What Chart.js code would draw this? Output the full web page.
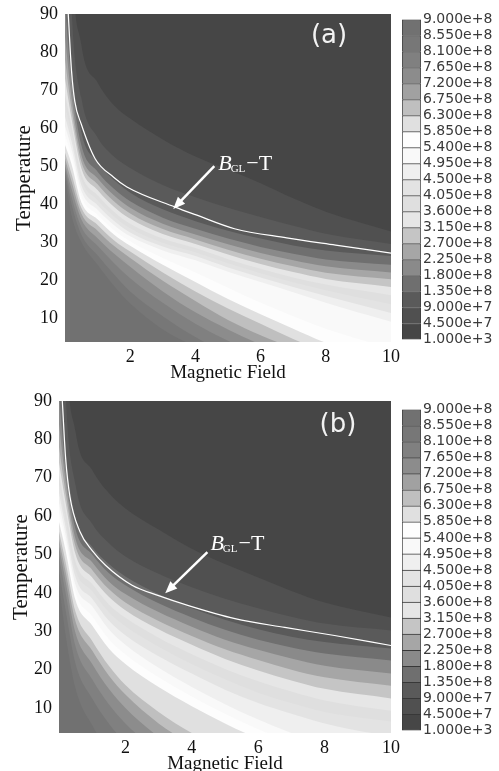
<!DOCTYPE html>
<html>
<head>
<meta charset="utf-8">
<script src="https://cdn.jsdelivr.net/npm/chart.js@4.4.1/dist/chart.umd.min.js"></script>
<style>
body{margin:0;background:#fff;width:499px;height:771px;position:relative;overflow:hidden}
canvas{position:absolute}
</style>
</head>
<body>
<canvas id="mainA" width="402" height="388" style="left:0;top:0"></canvas>
<canvas id="barA" width="119" height="360" style="left:380px;top:0"></canvas>
<canvas id="mainB" width="402" height="392" style="left:0;top:387px"></canvas>
<canvas id="barB" width="119" height="360" style="left:380px;top:390px"></canvas>
<script>
// magnetic field grid used for every contour boundary
const fieldB = [0, 0.2, 0.5, 1, 1.5, 2, 3, 4, 5, 6, 7, 8, 10];
const xTicks = [2, 4, 6, 8, 10];
const yTicks = [10, 20, 30, 40, 50, 60, 70, 80, 90];

// colour bar, top to bottom
const cbLabels = ['9.000e+8','8.550e+8','8.100e+8','7.650e+8','7.200e+8','6.750e+8','6.300e+8',
  '5.850e+8','5.400e+8','4.950e+8','4.500e+8','4.050e+8','3.600e+8','3.150e+8','2.700e+8',
  '2.250e+8','1.800e+8','1.350e+8','9.000e+7','4.500e+7','1.000e+3'];
const bandColors = ['#717171','#777777','#808080','#8c8c8c','#a1a1a1','#bfbfbf','#e0e0e0',
  '#fdfdfd','#f9f9f9','#efefef','#e3e3e3','#dfdfdf','#e6e6e6','#c5c5c5','#a6a6a6',
  '#8a8a8a','#6f6f6f','#5a5a5a','#505050','#464646'];

// (a) temperature of each contour level along fieldB, highest level first
const a855 = [47, 37, 30, 24, 18.5, 13.8, 7, 2.5, -1, -4, -7, -10, -16];
const a810 = [48.5, 40, 32, 26.5, 21.5, 17, 10.5, 5, 0.5, -3, -6, -9, -15];
const a765 = [49.5, 42, 34, 29, 24.5, 20.5, 14, 8.5, 4, 0, -3.5, -7, -13];
const a720 = [50.5, 44, 36, 31, 27, 23.5, 17, 11.5, 7, 3, -1, -4.5, -11];
const a675 = [52, 46, 37.5, 33, 29, 25.8, 19.8, 14.5, 9.5, 5.5, 2, -1.5, -8];
const a630 = [53.5, 48, 39, 34.5, 30.5, 27.5, 22, 17, 12.5, 8.5, 4.5, 1, -5];
const a585 = [55.5, 50.5, 40.5, 36, 32, 29, 24, 19.5, 15, 11, 7.2, 3.5, -2.5];
const a540 = [58, 52.5, 42, 37.2, 33.2, 30.2, 25.8, 22, 18, 14, 10.5, 7.2, 2];
const a495 = [60.5, 54.5, 43.5, 38.5, 34.5, 31.5, 27.8, 25.2, 22.2, 19.5, 16.8, 14, 9];
const a450 = [63, 56.5, 45, 39.7, 35.6, 32.5, 28.8, 26.3, 23.3, 20.7, 18.2, 15.8, 11.3];
const a405 = [66, 58.5, 46.5, 41, 36.8, 33.6, 29.8, 27.3, 24.4, 21.8, 19.4, 17.3, 13.6];
const a360 = [69, 60.5, 48, 42.3, 38, 34.8, 30.9, 28.4, 25.5, 23, 20.7, 18.8, 16];
const a315 = [73, 62.5, 49.5, 43.7, 39.3, 36.1, 32.1, 29.5, 26.7, 24.2, 22.1, 20.3, 18.2];
const a270 = [78, 65, 51.2, 45.2, 40.7, 37.5, 33.4, 30.7, 28, 25.6, 23.6, 21.9, 20.2];
const a225 = [84, 68, 53, 46.8, 42.3, 39, 34.8, 32, 29.4, 27.1, 25.2, 23.6, 22];
const a180 = [92, 72, 55.5, 48.5, 44, 40.7, 36.4, 33.5, 30.9, 28.7, 26.9, 25.4, 24];
const a135 = [110, 78, 59, 51, 46.3, 43, 38.6, 35.5, 33, 30.9, 29.1, 27.8, 26.3];
const a090 = [150, 92, 68, 57.5, 52.5, 49.5, 45, 41.8, 39, 36.6, 34.3, 32.2, 29.5];
const a045 = [200, 110, 82, 72, 66, 62.5, 57, 52.5, 49, 45.5, 41.5, 38, 32.8];

// (b)
const b855 = [42, 29, 15, 5.5, -1, -6, -13, -19, -23, -27, -31, -35, -42];
const b810 = [46, 35.5, 21.5, 12.5, 6, 1, -6, -12, -16, -20, -24, -28, -35];
const b765 = [49.5, 40, 26, 17.5, 11, 6, -1.5, -7, -12, -16, -20, -24, -31];
const b720 = [52, 43, 29.5, 21.5, 15, 10, 2.5, -3, -8, -12, -16, -20, -27];
const b675 = [54, 45.5, 32.5, 25, 18.5, 13.5, 6, 0.5, -4, -8, -12, -16, -23];
const b630 = [56, 48, 35, 27.5, 21, 16, 9, 3.5, -1, -5, -8.5, -12, -18];
const b585 = [58.5, 51, 38, 31.5, 25.5, 21.5, 15.5, 10.5, 6, 2, -1.5, -5, -11];
const b540 = [61, 53, 40, 34, 28, 24, 18, 13, 8.5, 4.5, 1, -2.5, -8];
const b495 = [63.5, 55, 42, 36.5, 30.5, 26.5, 20.5, 15.5, 11, 7, 3.5, 0.5, -5];
const b450 = [66, 57, 44, 38.5, 32.8, 29, 23.5, 19, 14.8, 11.3, 8.5, 6, 2.5];
const b405 = [68.5, 59, 46, 40.5, 35, 31.3, 26, 21.5, 17.5, 14, 11.3, 9, 6.5];
const b360 = [71, 61.5, 48, 42.3, 37, 33.5, 28.3, 24, 20.2, 17, 14.3, 12, 9.3];
const b315 = [74, 63.5, 50, 44, 39, 35.5, 30.5, 26.5, 22.8, 19.8, 17.2, 15, 12.5];
const b270 = [78, 66, 52, 46, 41, 37.5, 32.7, 28.8, 25.3, 22.5, 20, 18, 15.8];
const b225 = [84, 69, 54, 48, 43, 39.7, 35, 31.2, 27.8, 25.2, 22.9, 21, 19];
const b180 = [92, 72, 56.5, 50, 45.2, 42, 37.3, 33.6, 30.4, 27.8, 25.8, 24.2, 22.4];
const b135 = [110, 78, 59.5, 52, 47.5, 44.3, 39.7, 36, 33, 30.5, 28.6, 27.2, 25.5];
const b090 = [150, 92, 68, 58, 53, 49.5, 45, 41.5, 38.5, 36, 33.8, 32, 30.2];
const b045 = [200, 110, 82, 72, 66, 62, 56.5, 51.5, 47.5, 44, 40.5, 37.5, 33.6];

// B_GL - T curves
const glA_B = [0.1, 0.2, 0.3, 0.5, 0.92, 1.5, 1.9, 3.38, 4, 5.2, 6.8, 8.3, 10];
const glA_T = [90, 75, 67, 61, 52, 47, 44.5, 39.2, 37.2, 33.5, 31.1, 29.2, 27.1];
const glB_B = [0.1, 0.2, 0.33, 0.63, 1, 1.4, 2.2, 3, 3.9, 5.3, 6.8, 8.3, 10];
const glB_T = [90, 75, 65, 56, 51, 47.2, 42, 39.3, 36.7, 33.3, 31, 28.9, 26.3];

const serif = 'Liberation Serif';

const bgPlugin = {
  id: 'bg',
  beforeDatasetsDraw(chart) {
    const {ctx, chartArea: a} = chart;
    ctx.save();
    ctx.fillStyle = bandColors[19];
    ctx.fillRect(a.left, a.top, a.right - a.left, a.bottom - a.top);
    ctx.restore();
  }
};

function notePlugin(opt) {
  return {
    id: 'note',
    afterDatasetsDraw(chart) {
      const {ctx, scales: {x, y}} = chart;
      ctx.save();
      const x0 = x.getPixelForValue(opt.from[0]), y0 = y.getPixelForValue(opt.from[1]);
      const x1 = x.getPixelForValue(opt.tip[0]), y1 = y.getPixelForValue(opt.tip[1]);
      const ang = Math.atan2(y1 - y0, x1 - x0);
      const c = Math.cos(ang), s = Math.sin(ang);
      ctx.strokeStyle = '#fff';
      ctx.fillStyle = '#fff';
      ctx.lineWidth = 2.5;
      ctx.beginPath();
      ctx.moveTo(x0, y0);
      ctx.lineTo(x1 - c * 8, y1 - s * 8);
      ctx.stroke();
      ctx.beginPath();
      ctx.moveTo(x1, y1);
      ctx.lineTo(x1 - 12 * c + 5 * s, y1 - 12 * s - 5 * c);
      ctx.lineTo(x1 - 12 * c - 5 * s, y1 - 12 * s + 5 * c);
      ctx.closePath();
      ctx.fill();

      let tx = x.getPixelForValue(opt.text[0]);
      const ty = y.getPixelForValue(opt.text[1]);
      ctx.textAlign = 'left';
      ctx.textBaseline = 'alphabetic';
      ctx.font = 'italic 22px "' + serif + '"';
      ctx.fillText('B', tx, ty);
      tx += ctx.measureText('B').width - 1;
      ctx.font = '11px "' + serif + '"';
      ctx.fillText('GL', tx, ty + 2);
      tx += ctx.measureText('GL').width + 1;
      ctx.font = '22px "' + serif + '"';
      ctx.fillText('\u2212T', tx, ty);

      ctx.font = '26px "DejaVu Sans"';
      ctx.fillStyle = '#f2f2f2';
      ctx.textAlign = 'center';
      ctx.textBaseline = 'middle';
      ctx.fillText(opt.tag, x.getPixelForValue(opt.tagAt[0]), y.getPixelForValue(opt.tagAt[1]));
      ctx.restore();
    }
  };
}

function mainChart(id, bounds, lineB, lineT, yMin, leftW, titlePad, note) {
  const datasets = bounds.map((t, i) => ({
    data: fieldB.map((b, k) => ({x: b, y: t[k]})),
    fill: 'start',
    backgroundColor: bandColors[i],
    borderColor: 'rgba(0,0,0,0)',
    borderWidth: 0,
    pointRadius: 0,
    cubicInterpolationMode: 'monotone',
    order: i
  }));
  datasets.push({
    data: lineB.map((b, k) => ({x: b, y: lineT[k]})),
    fill: false,
    borderColor: '#ffffff',
    borderWidth: 1.2,
    pointRadius: 0,
    cubicInterpolationMode: 'monotone',
    order: -1
  });
  new Chart(document.getElementById(id), {
    type: 'line',
    data: {datasets},
    options: {
      responsive: false,
      animation: false,
      devicePixelRatio: 1,
      layout: {padding: {top: 14, right: 11, left: 0, bottom: 0}},
      plugins: {legend: {display: false}, tooltip: {enabled: false}},
      scales: {
        x: {
          type: 'linear', min: 0, max: 10,
          grid: {display: false, drawTicks: false}, border: {display: false},
          afterBuildTicks: s => { s.ticks = xTicks.map(v => ({value: v})); },
          afterFit: s => { s.height = 46; s.paddingLeft = 0; s.paddingRight = 0; },
          ticks: {font: {family: serif, size: 18}, color: '#111', padding: 4, maxRotation: 0, autoSkip: false},
          title: {display: true, text: 'Magnetic Field', font: {family: serif, size: 19}, color: '#111', padding: {top: 0, bottom: 4}}
        },
        y: {
          type: 'linear', min: yMin, max: 90,
          grid: {display: false, drawTicks: false}, border: {display: false},
          afterBuildTicks: s => { s.ticks = yTicks.map(v => ({value: v})); },
          afterFit: s => { s.width = leftW; s.paddingTop = 0; s.paddingBottom = 0; },
          ticks: {font: {family: serif, size: 18}, color: '#111', padding: 7, autoSkip: false},
          title: {display: true, text: 'Temperature', font: {family: serif, size: 21}, color: '#111', padding: {top: titlePad, bottom: 0}}
        }
      }
    },
    plugins: [bgPlugin, notePlugin(note)]
  });
}

function colorBar(id, topPad, bottomPad) {
  const datasets = bandColors.slice().reverse().map((c, j) => ({
    data: [1],
    backgroundColor: c,
    borderColor: '#383838',
    borderWidth: 1,
    borderSkipped: j === 0 ? false : 'start',
    barPercentage: 1,
    categoryPercentage: 1
  }));
  new Chart(document.getElementById(id), {
    type: 'bar',
    data: {labels: [''], datasets},
    options: {
      responsive: false,
      animation: false,
      devicePixelRatio: 1,
      layout: {padding: {left: 22, top: topPad, bottom: bottomPad, right: 0}},
      plugins: {legend: {display: false}, tooltip: {enabled: false}},
      scales: {
        x: {stacked: true, display: false},
        y: {
          stacked: true, position: 'right', min: 0, max: 20,
          grid: {display: false, drawTicks: false}, border: {display: false},
          afterBuildTicks: s => { s.ticks = cbLabels.map((l, i) => ({value: 20 - i})); },
          afterFit: s => { s.width = 78; s.paddingTop = 0; s.paddingBottom = 0; },
          ticks: {autoSkip: false, padding: 2, font: {family: 'DejaVu Sans', size: 14}, color: '#3a3a3a',
                  callback: v => cbLabels[20 - v]}
        }
      }
    }
  });
}

mainChart('mainA',
  [a855, a810, a765, a720, a675, a630, a585, a540, a495, a450, a405, a360, a315, a270, a225, a180, a135, a090, a045],
  glA_B, glA_T, 3.7, 65, 12,
  {from: [4.58, 50], tip: [3.32, 38.7], text: [4.7, 48.9], tag: '(a)', tagAt: [8.1, 84.2]});
mainChart('mainB',
  [b855, b810, b765, b720, b675, b630, b585, b540, b495, b450, b405, b360, b315, b270, b225, b180, b135, b090, b045],
  glB_B, glB_T, 3.5, 59, 9,
  {from: [4.47, 50.6], tip: [3.2, 39.9], text: [4.56, 51.1], tag: '(b)', tagAt: [8.4, 83.7]});
colorBar('barA', 19.5, 20.5);
colorBar('barB', 19.5, 19.5);
</script>
</body>
</html>
